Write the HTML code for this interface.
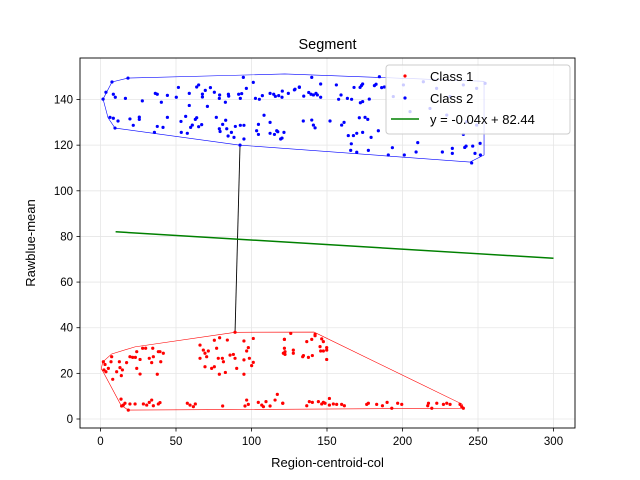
<!DOCTYPE html>
<html><head><meta charset="utf-8"><style>
body{margin:0;background:#fff}
svg{display:block;font-family:"Liberation Sans","DejaVu Sans",sans-serif}
</style></head><body>
<svg id="chart" width="640" height="480" viewBox="0 0 640 480">
<rect width="640" height="480" fill="#fff"/>
<g id="grid"></g>
<g id="hulls"></g>
<g id="pts"></g>
<rect x="80" y="58" width="495" height="370" fill="none" stroke="#000" stroke-width="0.9"/>
<g id="ticks"></g>
<text x="327.5" y="49" text-anchor="middle" font-size="14.5">Segment</text>
<text x="327.5" y="467" text-anchor="middle" font-size="13">Region-centroid-col</text>
<text transform="translate(35,243) rotate(-90)" text-anchor="middle" font-size="13">Rawblue-mean</text>
<g>
<rect x="386" y="65" width="184" height="69" rx="3" fill="#fff" fill-opacity="0.8" stroke="#ccc"/>
<circle cx="405" cy="76" r="1.6" fill="red"/>
<text x="430" y="81" font-size="13">Class 1</text>
<circle cx="405" cy="98" r="1.6" fill="blue"/>
<text x="430" y="103" font-size="13">Class 2</text>
<line x1="391" y1="119" x2="419" y2="119" stroke="green" stroke-width="1.5"/>
<text x="430" y="124" font-size="13">y = -0.04x + 82.44</text>
</g>
</svg>
<script>
const xTicks=[0,50,100,150,200,250,300];
const yTicks=[0,20,40,60,80,100,120,140];
const blueX=[3.6,8.5,9.8,16.5,27.7,36.3,37.6,40.3,44.3,50.2,51.6,58.8,58.8,63.7,65,67.5,69.4,67.5,70.8,72.8,75.4,78.9,78.7,82.7,84.7,84.9,91.5,92.6,93.5,94.6,96.6,101.2,102.6,105.2,107.2,112.3,114.7,115.8,118,120.4,120.2,124.4,128.4,131.7,
6.3,8.5,11.6,19.5,21.7,25.7,25.7,37.6,35.7,41.4,44.3,53.3,53.5,56.4,57.5,59.7,60.8,62.8,63.7,65,67,76.7,79.2,78.7,80.9,82.9,83.6,84.5,86.7,88.4,89.3,92.6,95,95,103.4,104.6,104.6,108.3,112.3,112.3,115.2,116.7,117.4,119.3,120.2,121.5,1.7,7.6,18.2,9.6,92.4,
128.8,131.7,134.6,137.9,139.4,141,142.7,143.6,145.8,145.8,139.9,156.2,159.3,157.7,163.5,166.3,167.9,171.9,172.8,173.6,172.1,173.6,178,181.4,182.5,184.7,186.2,188,134.3,139.9,141,142.1,152,159.7,161.3,171.4,175.2,177,164.1,167.5,169.7,173.6,179.2,184,166.1,165.7,169.7,177.4,193.3,190.6,201.2,210.1,209,226.4,233,233,240.3,241.2,242.1,246.5,248,245.8,251.4,251.6,193.9,200.6,213.8,222.6,231.5,240.3,249.1,254.7,205,218.2,229.3,242.5,249.1];
const blueY=[143.2,142.3,141,140.5,139.4,142.7,142.3,138.8,141.8,141,145.3,142.7,137.4,145.5,146.4,142.4,144,141.1,137,145.2,143.2,142,140.5,138.8,142.3,141.5,142.3,140.5,142.6,149.7,144.9,147.5,140.5,140.1,141.7,142.7,142.3,141.4,141.7,143.7,141,142.7,144.2,145.3,
132.2,131.8,130.6,131.5,128.7,132.3,131.3,128.2,125.6,127.8,132.2,130.4,125.6,132.6,125.2,127.8,128.8,131.3,132,128.1,129,132.2,126,127.2,129.1,130.9,127.2,124,125.6,123.4,128.2,128.7,128.7,122.7,126.3,124.7,129.1,133.1,130,125.2,124.7,126.3,125.9,122.7,123.1,125.6,140.2,147.7,149.4,127.5,120,
144.5,145.5,141.5,143.1,142.3,142,142.7,142,141,146.8,149.7,146.4,142,140.1,140.5,140.1,145.3,145.3,146.1,146.8,138.6,139.1,140.2,146.1,146.7,150,145.2,145.5,130.6,131,128.8,127.6,130.6,128.8,130,132,132.2,131.3,124.2,124.2,125.2,125.6,123.4,126.3,120.6,117.7,116.9,117.7,118.9,115.7,115.7,121.1,117,117,118.6,116.4,124.7,119,119.6,119.6,116.4,112.2,120.8,115.7,141.3,146.4,147.8,144.9,141.3,146.4,144.9,147.1,134.7,136.1,133.2,130.3,128.8];
const redX=[89.1,75.4,78.9,84,95,101.2,121.8,1.9,3,2.3,3.6,5.2,6.96,7.4,8.1,10.7,12.5,12.9,13.8,14.5,17.3,19.5,21.3,23.1,24,24,26.2,27.9,26.2,29.9,32.3,33.9,34.6,35,38.3,39.4,39.9,41.6,37.6,65.9,68.1,69.2,70.3,71.4,65.9,69.2,73.6,75.4,76.9,78,80.7,81.4,78.7,82.7,85.8,88,89.1,90.2,95,95,96.8,97.9,98.6,100.1,101.2,121.8,121.1,
13.6,14,15.1,16.2,18.4,19.5,22.9,28.4,30.6,32.3,33.9,35,38.3,39.4,57.5,59.3,61.5,62.8,80.9,95.7,96.8,97.9,104.5,106.8,107.9,109.6,112.3,115.6,117.1,120.7,
121.8,126,136.6,139.9,142.1,142.1,146.5,147.6,122.2,122.2,127.7,127.7,133.9,134.4,137.7,140.3,145.4,145.8,147.6,149.8,149.8,149.8,
120.7,136.6,138.3,140.3,144.3,146.5,147.6,148.7,151.6,151.6,154.2,156.4,159.7,161.5,176.3,177.4,182.9,186.7,189.8,192.9,196.8,199.5,216.7,217.2,219.4,222.7,227.1,229.3,231.5,238.1,239.2,240.3];
const redY=[38,34.5,35.6,34.6,34.2,35.3,34.9,25.1,23.9,21.5,20.7,22.2,25.1,27.3,17.4,20.7,25.1,22.5,19,21.5,24.7,27.3,27,27,22.2,29.5,26.1,31,19.7,31,26.6,24.7,31,27.3,29.5,29.5,25.1,28.8,19.6,32.4,30.2,28.8,27.3,29.8,26.6,22.9,22.2,22.9,31,26.6,26.6,25.1,19.6,20.4,28,28.3,26.6,22.2,25.9,19.6,29.8,31.3,26.6,23.4,24.8,31,28.8,
8.7,5.7,6.1,6.9,3.9,6.6,6.6,6.6,6.1,7.3,8.3,5.8,6.6,7.2,6.9,6.1,5.4,6.6,5.7,5.7,8.3,6.4,7.3,6.1,5.4,7.6,5.7,8.3,10.8,6.9,
34.9,37.5,33.9,34.9,37.1,36.5,35.1,33.9,29.5,28.3,30.2,28.8,27.3,27.8,27,27.8,31.7,29.8,29.8,31.3,30.2,26.1,
6.9,5.8,7.6,7.3,7.6,6.6,7.3,6.9,9,6.1,6.6,6.4,6.4,5.8,6.4,6.9,6.4,5.8,7.3,4.7,6.9,6.4,5.8,6.9,4.7,6.9,6.4,6.9,6.4,6.4,5.4,4.7];
const blueHullX=[1.7,7.6,18.2,122,254,254,244.7,92.4,9.6,5];
const blueHullY=[140.2,147.7,149.4,151.2,148,115.7,112.6,120,127.5,132];
const redHullX=[1.5,7.4,22.8,89.1,141.4,239.5,240.3,18.4,13.6,1.9,0.5];
const redHullY=[25,28.5,31.6,38,38.1,6.5,4.7,3.9,6,20.5,22];
const connX=[92.4,89.1];
const connY=[120,38];
const fitSlope=-0.04, fitIntercept=82.44, fitRange=[10,300];

const sx=v=>100.5+v*1.51;
const sy=v=>419-v*2.282;
const NS="http://www.w3.org/2000/svg";
function mk(tag,attrs,parent){const e=document.createElementNS(NS,tag);for(const k in attrs)e.setAttribute(k,attrs[k]);document.getElementById(parent).appendChild(e);return e;}

xTicks.forEach(t=>{
  const g=mk('line',{x1:sx(t),x2:sx(t),y1:58,y2:428,stroke:'#e6e6e6','stroke-width':0.8},'grid');
  
  
  const tk=mk('line',{x1:sx(t),x2:sx(t),y1:428,y2:431.5,stroke:'#000','stroke-width':0.8},'ticks');
  
  
  const tx=mk('text',{x:sx(t),y:445,'text-anchor':'middle','font-size':'11.5'},'ticks');
  tx.textContent=t;
  
  
});
yTicks.forEach(t=>{
  const g=mk('line',{x1:80,x2:575,y1:sy(t),y2:sy(t),stroke:'#e6e6e6','stroke-width':0.8},'grid');
  
  
  const tk=mk('line',{x1:76.5,x2:80,y1:sy(t),y2:sy(t),stroke:'#000','stroke-width':0.8},'ticks');
  
  
  const tx=mk('text',{x:73,y:sy(t)+4,'text-anchor':'end','font-size':'11.5'},'ticks');
  tx.textContent=t;
  
  
});
function poly(xs,ys){return xs.map((x,i)=>sx(x)+','+sy(ys[i])).join(' ');}
const bh=mk('polygon',{points:poly(blueHullX,blueHullY),fill:'none',stroke:'blue','stroke-width':0.6},'hulls');


const rh=mk('polygon',{points:poly(redHullX,redHullY),fill:'none',stroke:'red','stroke-width':0.6},'hulls');


const cn=mk('polyline',{points:poly(connX,connY),fill:'none',stroke:'#000','stroke-width':0.9},'hulls');


const fl=mk('line',{x1:sx(fitRange[0]),y1:sy(fitSlope*fitRange[0]+fitIntercept),x2:sx(fitRange[1]),y2:sy(fitSlope*fitRange[1]+fitIntercept),stroke:'green','stroke-width':1.5},'hulls');


redX.forEach((x,i)=>{
  const c=mk('circle',{cx:sx(x),cy:sy(redY[i]),r:1.6,fill:'red'},'pts');
  
  
});
blueX.forEach((x,i)=>{
  const c=mk('circle',{cx:sx(x),cy:sy(blueY[i]),r:1.6,fill:'blue'},'pts');
  
  
});
</script>
</body></html>
